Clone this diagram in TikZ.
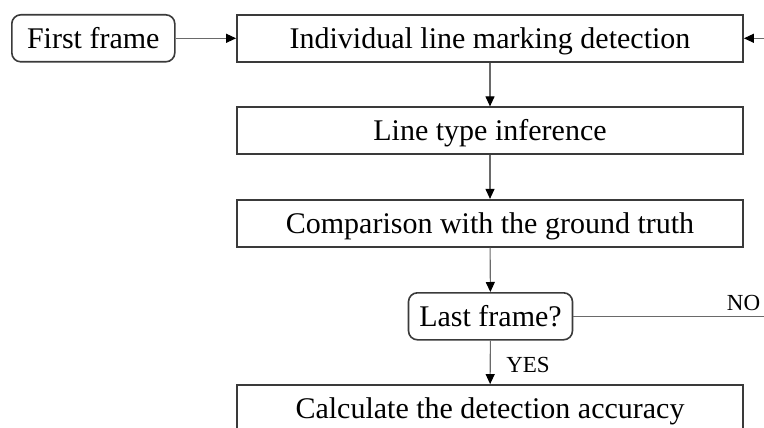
\documentclass[tikz,border=0pt]{standalone}
\usepackage{fontspec}
\setmainfont{Liberation Serif}
\usetikzlibrary{arrows.meta}
\definecolor{boxline}{HTML}{3A3A3A}
\definecolor{conn}{HTML}{6A6A6A}
\tikzset{
  procbox/.style={draw=boxline, line width=1.8pt, minimum width=506pt, minimum height=47pt, inner sep=0pt,
    font=\fontsize{30}{36}\selectfont, text=black, text height=20pt, text depth=0pt},
  termbox/.style={draw=boxline, line width=1.6pt, rounded corners=9pt, minimum height=47pt, inner sep=0pt,
    font=\fontsize{30}{36}\selectfont, text=black, text height=20pt, text depth=0pt},
  conline/.style={draw=conn, line width=1.1pt},
  conarrow/.style={conline, -{Triangle[length=10pt,width=9pt,fill=black,color=black]}},
  lbl/.style={font=\fontsize{23}{27}\selectfont, text=black, inner sep=0pt, text height=15pt, text depth=0pt}
}
\begin{document}
\begin{tikzpicture}[x=1pt,y=-1pt]
\useasboundingbox (0,0) rectangle (764,428);
\clip (0,0) rectangle (764,428);
\fill[white] (0,0) rectangle (764,428);
\node[termbox, minimum width=163pt] (first) at (93.3,38.3) {First frame};
\node[procbox] (detect) at (490,38.3) {Individual line marking detection};
\node[procbox] (type) at (490,130.8) {Line type inference};
\node[procbox] (comp) at (490,223.3) {Comparison with the ground truth};
\node[termbox, minimum width=164pt] (last) at (490.5,316.3) {Last frame?};
\node[procbox] (calc) at (490,408.5) {Calculate the detection accuracy};
\coordinate (rin) at (766,38.3);
\coordinate (rout) at (766,316.3);
\draw[conarrow] (first) -- (detect);
\draw[conarrow] (rin) -- (detect.east);
\draw[conarrow] (detect) -- (type);
\draw[conarrow] (type) -- (comp);
\draw[conarrow] (comp) -- (last);
\draw[conarrow] (last) -- (calc);
\draw[conline] (last.east) -- (rout);
\node[lbl] (no) at (743.5,303) {NO};
\node[lbl] (yes) at (528,365) {YES};
\end{tikzpicture}
\end{document}
